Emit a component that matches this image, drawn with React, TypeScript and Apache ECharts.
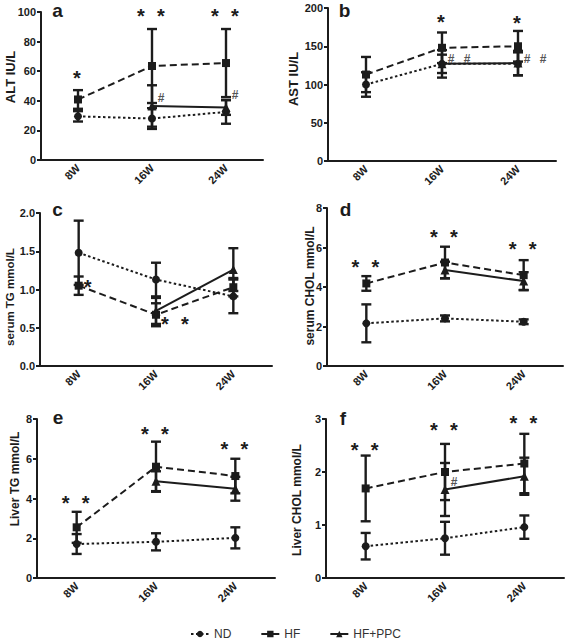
import React, { useEffect, useRef } from 'react';
import * as echarts from 'echarts';

const categories = ['8W', '16W', '24W'];
const groups = ['ND', 'HF', 'HF+PPC'];

// a: ALT
const altND = [29.5, 28, 32.5];
const altNDsd = [3.5, 7, 8];
const altHF = [40.9, 63.5, 65.5];
const altHFsd = [6.3, 25, 23];
const altPPC = [null, 36.5, 35.5];
const altPPCsd = [null, 14, 5];
const altTicks = [0, 20, 40, 60, 80, 100];
const altNotes: any[] = [[0, 58, '*', 'above'], [1, 100, '**', 'above'], [2, 100, '**', 'above'], [1, 42, '#', 'right'], [2, 44, '#', 'right']];

// b: AST
const astND = [100, 127, 127];
const astNDsd = [16, 18, 15];
const astHF = [113, 148, 150];
const astHFsd = [23, 20, 20];
const astPPC = [null, 127, 128];
const astPPCsd = [null, 12, 16];
const astTicks = [0, 50, 100, 150, 200];
const astNotes: any[] = [[1, 187, '*', 'above'], [2, 186, '*', 'above'], [1, 133, '##', 'right'], [2, 133, '##', 'right']];

// c: serum TG
const stgND = [1.48, 1.13, 0.91];
const stgNDsd = [0.42, 0.22, 0.22];
const stgHF = [1.05, 0.67, 1.03];
const stgHFsd = [0.12, 0.15, 0.12];
const stgPPC = [null, 0.72, 1.26];
const stgPPCsd = [null, 0.17, 0.28];
const stgTicks = [0, 0.5, 1.0, 1.5, 2.0];
const stgNotes: any[] = [[0, 1.085, '*', 'right'], [1, 0.6, '**', 'right']];

// d: serum CHOL
const schND = [2.16, 2.41, 2.24];
const schNDsd = [0.96, 0.15, 0.12];
const schHF = [4.18, 5.24, 4.6];
const schHFsd = [0.37, 0.8, 0.76];
const schPPC = [null, 4.86, 4.3];
const schPPCsd = [null, 0.42, 0.45];
const schTicks = [0, 2, 4, 6, 8];
const schNotes: any[] = [[0, 5.23, '**', 'above'], [1, 6.75, '**', 'above'], [2, 6.15, '**', 'above']];

// e: Liver TG
const ltgND = [1.71, 1.82, 2.02];
const ltgNDsd = [0.5, 0.43, 0.53];
const ltgHF = [2.55, 5.6, 5.13];
const ltgHFsd = [0.78, 1.26, 0.87];
const ltgPPC = [null, 4.87, 4.49];
const ltgPPCsd = [null, 0.5, 0.6];
const ltgTicks = [0, 2, 4, 6, 8];
const ltgNotes: any[] = [[0, 4.0, '**', 'above'], [1, 7.45, '**', 'above'], [2, 6.67, '**', 'above']];

// f: Liver CHOL
const lchND = [0.6, 0.75, 0.96];
const lchNDsd = [0.25, 0.31, 0.22];
const lchHF = [1.69, 2.0, 2.16];
const lchHFsd = [0.62, 0.53, 0.56];
const lchPPC = [null, 1.67, 1.92];
const lchPPCsd = [null, 0.5, 0.35];
const lchTicks = [0, 1, 2, 3];
const lchNotes: any[] = [[0, 2.5, '**', 'above'], [1, 2.86, '**', 'above'], [2, 3.0, '**', 'above'], [1, 1.81, '#', 'right']];

const panels = [
  { letter: 'a', name: 'ALT IU/L', ticks: altTicks, means: [altND, altHF, altPPC], sds: [altNDsd, altHFsd, altPPCsd], notes: altNotes, dec: 0 },
  { letter: 'b', name: 'AST IU/L', ticks: astTicks, means: [astND, astHF, astPPC], sds: [astNDsd, astHFsd, astPPCsd], notes: astNotes, dec: 0 },
  { letter: 'c', name: 'serum TG mmol/L', ticks: stgTicks, means: [stgND, stgHF, stgPPC], sds: [stgNDsd, stgHFsd, stgPPCsd], notes: stgNotes, dec: 1 },
  { letter: 'd', name: 'serum CHOL mmol/L', ticks: schTicks, means: [schND, schHF, schPPC], sds: [schNDsd, schHFsd, schPPCsd], notes: schNotes, dec: 0 },
  { letter: 'e', name: 'Liver TG mmol/L', ticks: ltgTicks, means: [ltgND, ltgHF, ltgPPC], sds: [ltgNDsd, ltgHFsd, ltgPPCsd], notes: ltgNotes, dec: 0 },
  { letter: 'f', name: 'Liver CHOL mmol/L', ticks: lchTicks, means: [lchND, lchHF, lchPPC], sds: [lchNDsd, lchHFsd, lchPPCsd], notes: lchNotes, dec: 0 },
];

// layout (positions / sizes only)
const layout = [
  { left: 41, top: 12, width: 222, height: 148, nx: 10, ny: 77, nfs: 13, lx: 57.5, ly: 10 },
  { left: 328, top: 8, width: 228, height: 153, nx: 293, ny: 79, nfs: 13, lx: 344.5, ly: 10 },
  { left: 40, top: 213, width: 232, height: 153, nx: 10, ny: 297, nfs: 11.5, lx: 57.5, ly: 209.5 },
  { left: 327, top: 208, width: 236, height: 158, nx: 310, ny: 286, nfs: 12, lx: 345.5, ly: 209.5 },
  { left: 37, top: 419, width: 238, height: 159, nx: 15, ny: 479, nfs: 12, lx: 58, ly: 417.5 },
  { left: 326, top: 419, width: 238, height: 159, nx: 297, ny: 500, nfs: 12, lx: 343, ly: 418 },
];

const INK = '#1c1c1c';
const FONT = '"Liberation Sans", Arial, sans-serif';
const symbols = ['circle', 'rect', 'triangle'];
const symbolSizes = [8, 8, 9];
const dashes: any[] = [[2.5, 2.5], [7, 4], 'solid'];

function errRender(params: any, api: any) {
  const x = api.value(0);
  const lo = api.coord([x, api.value(1)]);
  const hi = api.coord([x, api.value(2)]);
  const cw = 5;
  const style = { stroke: INK, lineWidth: 2.4 };
  return {
    type: 'group',
    children: [
      { type: 'line', shape: { x1: lo[0], y1: lo[1], x2: hi[0], y2: hi[1] }, style },
      { type: 'line', shape: { x1: lo[0] - cw, y1: lo[1], x2: lo[0] + cw, y2: lo[1] }, style },
      { type: 'line', shape: { x1: hi[0] - cw, y1: hi[1], x2: hi[0] + cw, y2: hi[1] }, style },
    ],
  };
}

function makeNoteRender(notes: any[]) {
  return (params: any, api: any) => {
    const n = notes[params.dataIndex];
    const p = api.coord([api.value(0), api.value(1)]);
    const chars: string[] = String(n[2]).split('');
    const isStar = chars[0] === '*';
    const gap = isStar ? 20 : 16;
    const start = n[3] === 'right' ? 9 : -((chars.length - 1) * gap) / 2 - 1;
    return {
      type: 'group',
      children: chars.map((c, k) => ({
        type: 'text',
        x: p[0] + start + k * gap,
        y: p[1] + (isStar ? 4 : 0),
        style: {
          text: c,
          fill: isStar ? INK : '#555',
          font: isStar ? `bold 20px ${FONT}` : `bold 12px ${FONT}`,
          align: 'center',
          verticalAlign: 'middle',
        },
      })),
    };
  };
}

export default function App() {
  const ref = useRef<HTMLDivElement>(null);
  useEffect(() => {
    if (!ref.current) return;
    const chart = echarts.init(ref.current, null, { renderer: 'svg' });
    const grid: any[] = [];
    const xAxis: any[] = [];
    const yAxis: any[] = [];
    const series: any[] = [];
    const graphic: any[] = [];
    panels.forEach((pn, i) => {
      const L = layout[i];
      grid.push({ left: L.left, top: L.top, width: L.width, height: L.height });
      xAxis.push({
        type: 'category', gridIndex: i, data: categories,
        axisLine: { lineStyle: { color: INK, width: 2 } },
        axisTick: { alignWithLabel: true, length: 4, lineStyle: { color: INK, width: 2 } },
        axisLabel: { rotate: 45, fontFamily: FONT, fontWeight: 'bold', fontSize: 11, color: INK, margin: 6 },
      });
      const t = pn.ticks;
      yAxis.push({
        type: 'value', gridIndex: i, min: t[0], max: t[t.length - 1], interval: t[1] - t[0],
        axisLine: { show: true, lineStyle: { color: INK, width: 2 } },
        axisTick: { show: true, length: 4, lineStyle: { color: INK, width: 2 } },
        axisLabel: { fontFamily: FONT, fontWeight: 'bold', fontSize: 11, color: INK, margin: 5,
          formatter: (v: number) => v.toFixed(pn.dec) },
        splitLine: { show: false },
      });
      const errData: any[] = [];
      pn.means.forEach((m, g) => {
        series.push({
          type: 'line', name: groups[g], xAxisIndex: i, yAxisIndex: i, data: m,
          symbol: symbols[g], symbolSize: symbolSizes[g], showSymbol: true,
          lineStyle: { type: dashes[g], width: 2, color: INK },
          itemStyle: { color: INK }, z: 3,
        });
        m.forEach((v: any, k: number) => {
          if (v == null) return;
          const sd = (pn.sds[g] as any)[k];
          errData.push([k, v - sd, v + sd]);
        });
      });
      series.push({
        type: 'custom', name: 'err' + i, xAxisIndex: i, yAxisIndex: i, data: errData,
        encode: { x: 0, y: [1, 2] }, renderItem: errRender, z: 4, silent: true,
      });
      series.push({
        type: 'custom', name: 'note' + i, xAxisIndex: i, yAxisIndex: i,
        data: pn.notes.map((n: any) => [n[0], n[1]]),
        encode: { x: 0, y: 1 }, renderItem: makeNoteRender(pn.notes), z: 5, silent: true,
      });
      graphic.push({
        type: 'text', x: L.lx, y: L.ly,
        style: { text: pn.letter, font: `bold 19px ${FONT}`, fill: INK, align: 'center', verticalAlign: 'middle' },
      });
      graphic.push({
        type: 'text', x: L.nx, y: L.ny, rotation: Math.PI / 2,
        style: { text: pn.name, font: `bold ${L.nfs}px ${FONT}`, fill: INK, align: 'center', verticalAlign: 'middle' },
      });
    });
    chart.setOption({
      animation: false,
      backgroundColor: '#fff',
      grid, xAxis, yAxis, series, graphic,
      legend: {
        data: groups, left: 185, top: 623, itemWidth: 18, itemHeight: 8, itemGap: 29,
        textStyle: { fontFamily: FONT, fontSize: 12, color: '#333' },
      },
    });
    return () => chart.dispose();
  }, []);
  return <div ref={ref} style={{ position: 'fixed', left: 0, top: 0, width: 567, height: 644 }} />;
}
